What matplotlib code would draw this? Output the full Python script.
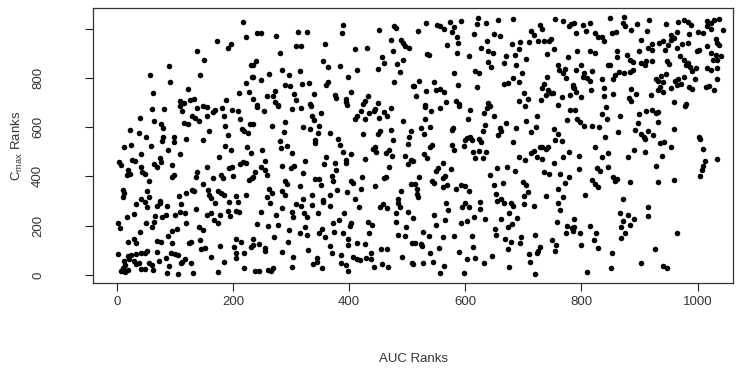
import matplotlib.pyplot as plt
import numpy as np

# (AUC rank, Cmax rank) pairs
rank_pairs = [
    # upper band, left
    (218, 1026), (223, 964), (172, 951), (191, 923), (197, 937), (139, 910), (151, 873),
    (90, 846), (57, 810), (143, 810), (92, 783), (232, 850), (233, 802), (223, 779),
    (63, 738), (122, 756), (210, 738), (227, 742), (109, 707), (115, 698), (126, 711),
    (133, 715), (189, 711),
    (242, 982), (248, 982), (275, 968), (312, 986), (327, 986), (390, 1015), (387, 982),
    (477, 1009), (480, 1002), (451, 995), (281, 900), (308, 928), (318, 928), (359, 937),
    (410, 918), (431, 923), (472, 955), (490, 955), (493, 941), (497, 928), (504, 923),
    (476, 910), (239, 869), (235, 850), (355, 869), (364, 842), (384, 846), (414, 833),
    (457, 883), (461, 860), (449, 837), (483, 856), (493, 873), (487, 823), (284, 833),
    (316, 829), (262, 815), (296, 810), (235, 802), (249, 792), (398, 802), (478, 783),
    (290, 769), (298, 765), (319, 775), (331, 779), (363, 783), (361, 769), (273, 748),
    (404, 742), (339, 734), (306, 734), (258, 725), (269, 725), (375, 729), (378, 718),
    (394, 715), (395, 702), (433, 725), (428, 707), (424, 694), (235, 715), (273, 702),
    (277, 691), (309, 711), (449, 698), (510, 765), (332, 694), (242, 688),
    # upper band, middle
    (533, 1022), (518, 991), (552, 1015), (557, 1009), (563, 999), (573, 1026), (592, 1032),
    (580, 1005), (577, 986), (586, 964), (588, 941), (622, 1042), (620, 1018), (636, 1022),
    (657, 1036), (683, 1040), (615, 978), (649, 978), (659, 968), (638, 951), (569, 932),
    (627, 923), (640, 910), (647, 900), (586, 900), (535, 896), (537, 891), (606, 887),
    (680, 937), (695, 945), (709, 945), (693, 918), (714, 991), (719, 975), (729, 1015),
    (732, 999), (725, 951), (735, 951), (748, 959), (745, 948), (755, 1040), (768, 1029),
    (779, 1009), (782, 1018), (752, 918), (741, 896), (777, 883), (670, 887), (686, 891),
    (705, 877), (666, 860), (687, 850), (640, 864), (645, 842), (580, 819), (617, 829),
    (624, 819), (759, 853), (762, 833), (771, 837), (768, 819), (773, 799), (697, 819),
    (682, 799), (692, 783), (666, 775), (673, 779), (741, 802), (736, 775), (733, 759),
    (521, 788), (546, 783), (512, 765), (587, 769), (620, 761), (533, 748), (550, 752),
    (557, 756), (563, 742), (743, 752), (747, 738), (739, 729), (751, 738), (785, 761),
    (702, 738), (516, 725), (708, 715), (692, 707), (766, 721), (781, 729), (730, 711),
    (567, 702), (584, 707), (590, 694), (640, 698), (531, 688), (759, 691),
    # upper band, right
    (788, 1022), (802, 1015), (814, 1022), (850, 1042), (874, 1045), (871, 1022), (875, 1009),
    (895, 1018), (917, 1036), (945, 1018), (966, 1026), (977, 1036), (984, 1026), (988, 1013),
    (1016, 1032), (1023, 1022), (1028, 1036), (1037, 1040), (1017, 1009), (1023, 999),
    (1043, 995), (791, 982), (808, 991), (823, 982), (852, 982), (859, 986), (886, 995),
    (913, 991), (836, 964), (839, 948), (829, 964), (903, 955), (964, 986), (954, 975),
    (985, 978), (1000, 988), (1010, 982), (934, 941), (921, 937), (940, 951), (954, 955),
    (960, 961), (974, 937), (983, 941), (1031, 959), (1034, 941), (1037, 932), (793, 907),
    (814, 910), (823, 900), (878, 894), (884, 873), (888, 864), (899, 910), (915, 923),
    (921, 914), (862, 907), (861, 883), (949, 932), (944, 914), (964, 921), (999, 910),
    (1003, 914), (1016, 928), (1023, 900), (970, 887), (977, 873), (980, 853), (1031, 894),
    (1026, 873), (1034, 873), (1040, 887), (791, 833), (799, 850), (805, 819), (819, 826),
    (845, 853), (850, 850), (888, 833), (884, 823), (874, 819), (903, 860), (909, 853),
    (911, 869), (922, 869), (948, 867), (951, 856), (983, 860), (987, 842), (991, 829),
    (997, 840), (1017, 840), (1023, 833), (1034, 840), (858, 813), (854, 796), (865, 823),
    (810, 799), (802, 802), (814, 786), (836, 796), (928, 796), (932, 786), (937, 806),
    (945, 815), (961, 788), (967, 796), (976, 802), (995, 796), (785, 769), (788, 759),
    (816, 752), (839, 759), (854, 734), (839, 725), (886, 756), (894, 734), (940, 783),
    (936, 761), (932, 752), (941, 742), (954, 759), (965, 769), (972, 775), (985, 761),
    (991, 756), (1014, 761), (1020, 765), (1028, 752), (1034, 796), (799, 721), (882, 718),
    (886, 707), (920, 729), (960, 702), (980, 694), (791, 742),
    # middle band, left
    (61, 674), (82, 674), (109, 687), (113, 664), (139, 678), (149, 687), (155, 683),
    (166, 660), (170, 670), (182, 678), (199, 670), (208, 667), (40, 637), (65, 626),
    (76, 613), (80, 597), (116, 616), (123, 613), (130, 643), (135, 637), (142, 624),
    (155, 643), (185, 647), (187, 606), (212, 633), (229, 613), (23, 589), (38, 575),
    (50, 561), (80, 561), (78, 543), (99, 559), (99, 539), (119, 552), (149, 548),
    (159, 586), (191, 566), (215, 593), (219, 583), (226, 575), (13, 521), (25, 529),
    (59, 525), (88, 507), (109, 489), (187, 525), (197, 507), (225, 518), (231, 494),
    (42, 489), (27, 467), (32, 461), (4, 457), (7, 448), (42, 440), (65, 451), (69, 440),
    (77, 457), (95, 448), (74, 475), (176, 480), (155, 440), (193, 434), (199, 440),
    (212, 451), (218, 457), (222, 453), (19, 424), (23, 410), (17, 407), (44, 417),
    (48, 410), (56, 380), (96, 399), (99, 407), (139, 417), (136, 397), (166, 394),
    (180, 407), (183, 394), (201, 403), (227, 386), (233, 394), (10, 345), (13, 332),
    (11, 318), (52, 340), (56, 318), (107, 322), (119, 332), (129, 345), (133, 340),
    (149, 367), (158, 345), (159, 326), (162, 313), (174, 340), (180, 332), (185, 326),
    (206, 322), (222, 326), (42, 309), (74, 299),
    (242, 680), (254, 664), (277, 687), (302, 674), (317, 678), (334, 687), (352, 656),
    (336, 647), (340, 629), (397, 691), (268, 606), (289, 620), (288, 579), (321, 602),
    (332, 593), (348, 606), (347, 575), (421, 667), (428, 633), (411, 633), (414, 647),
    (435, 656), (443, 664), (445, 674), (451, 637), (460, 660), (466, 643), (472, 678),
    (493, 626), (235, 613), (281, 543), (294, 525), (301, 494), (282, 516), (341, 548),
    (342, 534), (368, 575), (381, 552), (384, 529), (390, 498), (403, 489), (424, 570),
    (449, 572), (453, 583), (473, 589), (476, 548), (506, 583), (504, 559), (501, 532),
    (250, 505), (255, 464), (249, 440), (256, 424), (258, 407), (238, 417), (285, 444),
    (300, 434), (305, 444), (325, 461), (321, 413), (361, 478), (357, 451), (376, 453),
    (378, 426), (394, 467), (394, 453), (427, 471), (441, 511), (447, 498), (445, 518),
    (464, 494), (468, 507), (474, 484), (496, 484), (501, 451), (506, 467), (342, 390),
    (349, 390), (352, 363), (371, 403), (372, 380), (380, 345), (368, 326), (422, 399),
    (407, 372), (403, 380), (420, 349), (445, 359), (461, 394), (464, 399), (468, 437),
    (506, 370), (262, 349), (268, 332), (258, 318), (285, 340), (290, 326), (290, 380),
    (294, 367), (315, 359), (336, 326), (321, 309), (355, 305), (397, 336), (411, 309),
    (489, 340), (484, 309), (235, 397),
    # middle band, middle
    (530, 683), (541, 664), (556, 678), (590, 687), (609, 670), (632, 656), (638, 678),
    (642, 687), (703, 687), (781, 670), (530, 633), (523, 597), (529, 570), (540, 602),
    (577, 589), (579, 597), (604, 633), (630, 586), (634, 610), (649, 647), (659, 597),
    (662, 583), (657, 566), (670, 616), (687, 597), (705, 626), (724, 647), (722, 602),
    (714, 579), (753, 593), (760, 570), (755, 548), (766, 543), (775, 629), (600, 548),
    (598, 525), (603, 556), (609, 559), (611, 548), (624, 552), (627, 539), (613, 498),
    (624, 502), (636, 498), (617, 475), (630, 475), (577, 529), (581, 507), (543, 529),
    (539, 521), (529, 489), (535, 475), (510, 461), (682, 539), (728, 521), (732, 518),
    (739, 511), (743, 518), (714, 494), (719, 502), (724, 480), (732, 471), (692, 480),
    (703, 467), (769, 480), (752, 453), (779, 498), (561, 453), (553, 434), (550, 421),
    (575, 430), (565, 403), (561, 394), (543, 380), (547, 372), (521, 399), (514, 367),
    (517, 349), (517, 329), (518, 318), (643, 407), (655, 434), (672, 440), (686, 421),
    (649, 363), (665, 372), (699, 376), (705, 363), (708, 336), (701, 322), (653, 329),
    (662, 309), (736, 417), (745, 410), (764, 410), (779, 399), (772, 372), (759, 349),
    (769, 318), (739, 322), (569, 363), (584, 349), (592, 363), (599, 359), (606, 340),
    (561, 356),
    # middle band, right
    (789, 670), (842, 683), (835, 653), (844, 633), (867, 647), (899, 653), (911, 664),
    (921, 670), (928, 656), (932, 660), (932, 620), (978, 687), (792, 633), (798, 620),
    (804, 606), (818, 606), (831, 602), (863, 579), (892, 589), (897, 616), (915, 586),
    (902, 570), (907, 559), (909, 552), (924, 566), (960, 593), (840, 559), (823, 518),
    (795, 484), (836, 480), (846, 494), (881, 478), (890, 507), (909, 498), (936, 534),
    (942, 539), (955, 521), (938, 484), (1003, 561), (1004, 552), (1010, 511), (1012, 461),
    (1010, 444), (1008, 424), (1005, 403), (1033, 471), (795, 430), (827, 434), (832, 421),
    (846, 440), (854, 399), (861, 390), (858, 383), (819, 386), (823, 367), (828, 356),
    (884, 376), (928, 444), (932, 376), (960, 386), (806, 326), (871, 309),
    # lower band, left
    (33, 288), (48, 297), (53, 274), (70, 280), (74, 293), (86, 280), (111, 288),
    (136, 266), (170, 293), (193, 297), (208, 297), (2, 212), (6, 189), (17, 236),
    (29, 247), (50, 212), (66, 239), (65, 216), (78, 236), (84, 243), (100, 243),
    (109, 257), (117, 250), (120, 209), (156, 243), (162, 253), (168, 223), (174, 212),
    (178, 243), (191, 261), (195, 239), (205, 261), (210, 257), (40, 176), (61, 193),
    (88, 158), (95, 180), (103, 185), (142, 193), (149, 182), (19, 135), (29, 144),
    (34, 128), (70, 139), (77, 135), (96, 131), (124, 131), (128, 135), (143, 142),
    (145, 104), (152, 108), (178, 117), (205, 144), (214, 135), (202, 115), (206, 90),
    (219, 90), (231, 112), (235, 121), (2, 85), (19, 77), (25, 81), (30, 58), (34, 85),
    (42, 90), (49, 90), (53, 99), (70, 94), (93, 90), (101, 85), (106, 81), (113, 54),
    (117, 63), (128, 50), (162, 71), (185, 54), (206, 67), (13, 58), (21, 63), (15, 40),
    (33, 44), (38, 50), (56, 50), (61, 40), (73, 58), (84, 67), (90, 36), (111, 50),
    (7, 17), (11, 27), (15, 13), (19, 20), (42, 23), (48, 23), (63, 20), (86, 9),
    (105, 4), (132, 7), (174, 13), (219, 27),
    (264, 290), (284, 270), (308, 288), (318, 280), (336, 284), (355, 297), (367, 280),
    (417, 274), (458, 288), (466, 270), (484, 293), (487, 277), (248, 257), (275, 243),
    (301, 257), (304, 236), (323, 250), (327, 236), (347, 253), (391, 250), (454, 274),
    (480, 253), (501, 257), (241, 207), (260, 199), (277, 203), (296, 182), (325, 196),
    (315, 169), (328, 162), (349, 172), (353, 185), (372, 212), (382, 223), (374, 176),
    (390, 169), (401, 199), (404, 209), (433, 216), (439, 203), (434, 169), (481, 216),
    (498, 196), (485, 162), (497, 158), (508, 128), (235, 144), (245, 126), (256, 108),
    (255, 99), (271, 153), (285, 94), (295, 135), (329, 101), (359, 153), (367, 117),
    (370, 90), (386, 81), (398, 144), (399, 121), (414, 131), (427, 126), (437, 90),
    (407, 71), (414, 63), (418, 61), (430, 67), (438, 63), (455, 104), (466, 104),
    (491, 71), (508, 50), (304, 71), (302, 34), (338, 44), (344, 67), (345, 54),
    (353, 27), (386, 50), (395, 40), (398, 17), (443, 34), (457, 44), (467, 31),
    (238, 17), (245, 17), (260, 20), (266, 17), (269, 27),
    # lower band, middle
    (567, 293), (570, 263), (594, 277), (600, 290), (607, 274), (626, 297), (626, 266),
    (655, 301), (666, 290), (678, 293), (683, 280), (701, 288), (718, 280), (759, 293),
    (764, 263), (510, 230), (546, 243), (550, 203), (565, 223), (592, 209), (603, 220),
    (615, 236), (634, 227), (661, 226), (676, 250), (674, 196), (680, 207), (689, 230),
    (758, 216), (775, 199), (773, 172), (783, 189), (527, 176), (537, 158), (561, 153),
    (580, 158), (611, 158), (651, 185), (653, 162), (669, 144), (678, 135), (696, 155),
    (695, 131), (720, 162), (749, 142), (756, 121), (755, 98), (514, 128), (524, 126),
    (525, 117), (539, 90), (554, 108), (590, 94), (613, 112), (674, 104), (710, 85),
    (724, 88), (728, 112), (726, 99), (712, 54), (510, 44), (527, 47), (544, 54),
    (564, 36), (603, 63), (617, 67), (632, 50), (646, 77), (676, 31), (556, 9),
    (598, 9), (720, 4),
    # lower band, right
    (914, 274), (914, 239), (867, 253), (881, 243), (890, 226), (871, 220), (884, 203),
    (868, 196), (875, 172), (868, 149), (787, 226), (788, 196), (785, 180), (798, 172),
    (814, 199), (825, 169), (821, 142), (800, 121), (829, 108), (852, 88), (926, 104),
    (964, 172), (810, 13), (851, 27), (902, 47), (941, 36), (948, 27),
]

x_ticks = [0, 200, 400, 600, 800, 1000]
y_ticks = [0, 200, 400, 600, 800, 1000]
y_tick_labels = ["0", "200", "400", "600", "800", ""]

auc_rank = np.array([p[0] for p in rank_pairs])
cmax_rank = np.array([p[1] for p in rank_pairs])

plt.rcParams.update({
    "font.family": ["Liberation Sans", "DejaVu Sans"],
    "mathtext.default": "regular",
    "font.size": 9.5,
})

fig = plt.figure(figsize=(7.46, 3.68), dpi=100)
ax = fig.add_axes([0.1253, 0.2302, 0.8573, 0.7478])

ax.scatter(auc_rank, cmax_rank, s=16, c="black", linewidths=0, zorder=3)

ax.set_xlim(-40, 1061)
ax.set_ylim(-34, 1083)
ax.set_xticks(x_ticks)
ax.set_yticks(y_ticks)
ax.set_yticklabels(y_tick_labels, rotation=90, va="center")
ax.tick_params(direction="out", length=5.5, width=0.8, colors="#222222",
               labelcolor="#333333")
ax.tick_params(axis="x", pad=4)
ax.tick_params(axis="y", pad=30)
for sp in ax.spines.values():
    sp.set_linewidth(0.9)
    sp.set_color("#333333")

ax.set_xlabel("AUC Ranks", color="#333333", labelpad=32)
ax.set_ylabel("C$_{max}$ Ranks", color="#333333", labelpad=5)

fig.savefig("out.png", dpi=100)
